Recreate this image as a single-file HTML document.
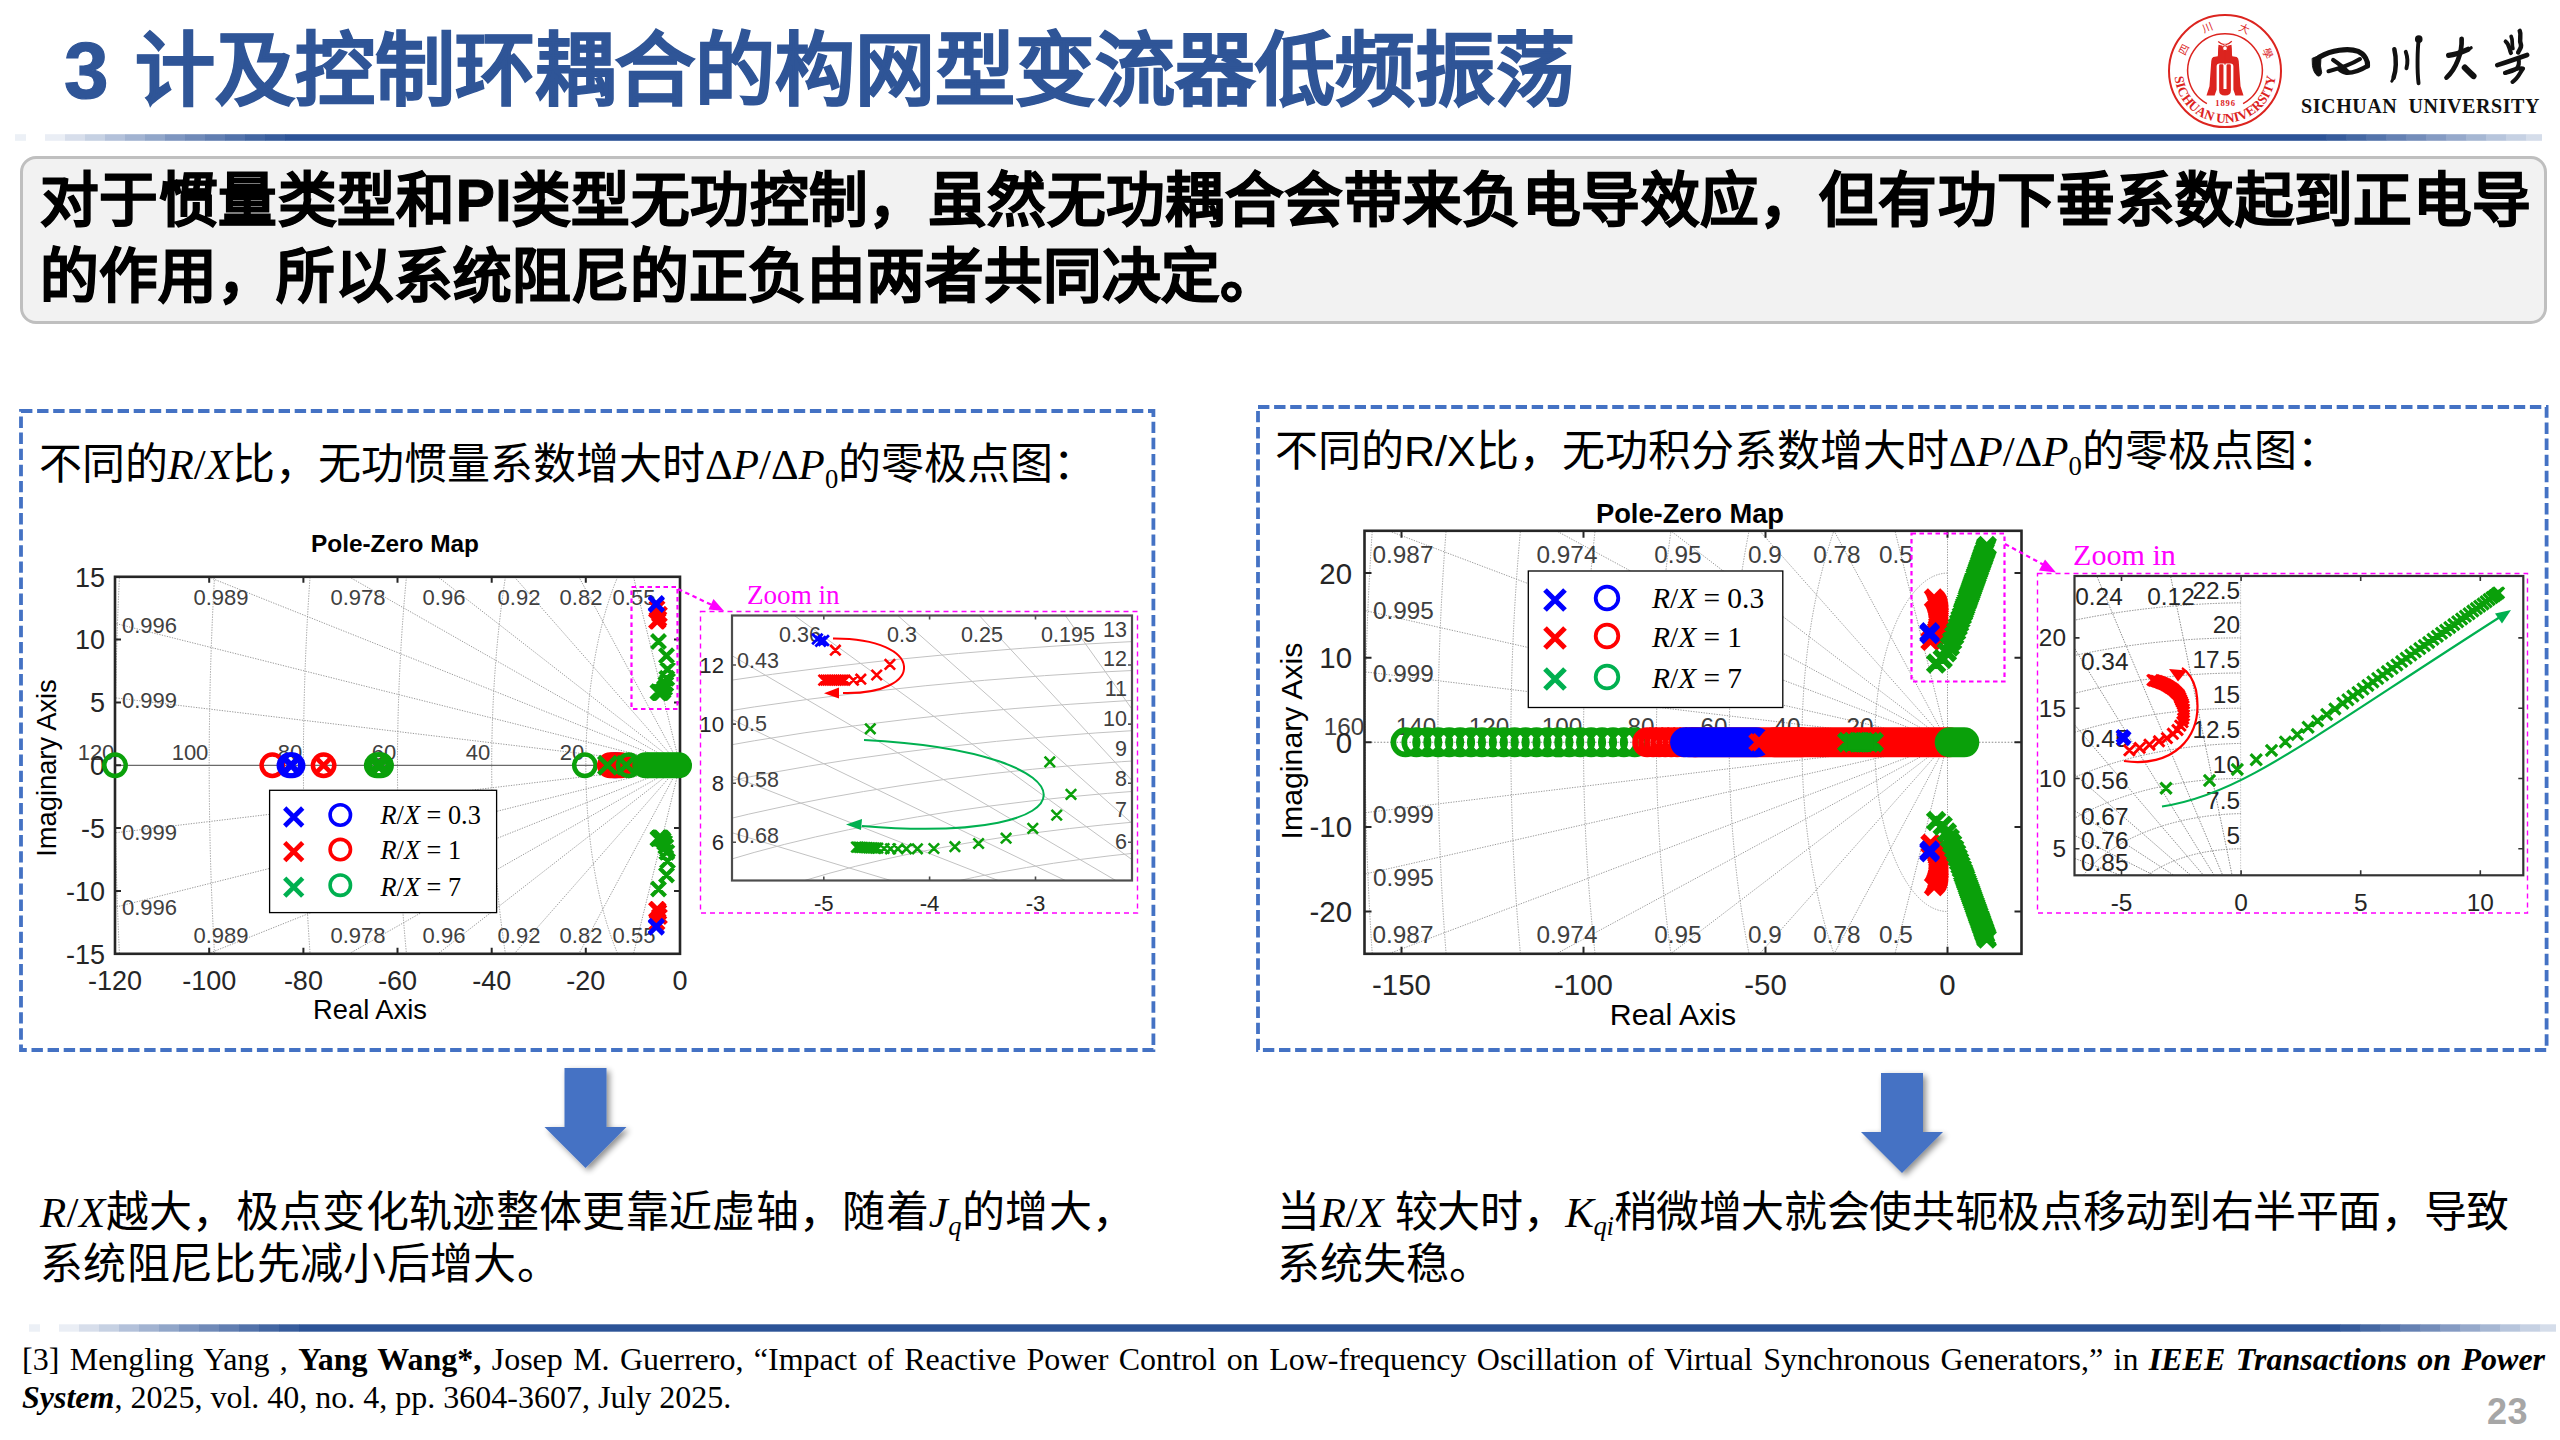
<!DOCTYPE html>
<html lang="zh-CN"><head><meta charset="utf-8"><title>slide 23</title>
<style>
*{margin:0;padding:0;box-sizing:border-box}
html,body{width:2560px;height:1440px;overflow:hidden;background:#fff}
body{position:relative;font-family:"Liberation Sans",sans-serif;color:#000}
.t{position:absolute;white-space:nowrap;line-height:1;text-align:justify;text-align-last:justify}
.ser{font-family:"Liberation Serif",serif}
i.m{font-family:"Liberation Serif",serif;font-style:italic}
span.m{font-family:"Liberation Serif",serif}
sub.m{font-family:"Liberation Serif",serif;font-size:62%;vertical-align:baseline;position:relative;top:.32em}
#title{width:1511px;left:64px;top:31px;word-spacing:4px;font-size:80px;font-weight:bold;color:#2f5597;-webkit-text-stroke:1.2px #2f5597}
.rule{position:absolute;height:7px;background:linear-gradient(90deg,rgba(47,85,151,0) 0,rgba(47,85,151,.12) 1.2%,rgba(47,85,151,.25) 4%,rgba(47,85,151,.6) 13%,#2f5597 21%,#2f5597 84%,rgba(47,85,151,.7) 88%,rgba(47,85,151,.35) 94%,rgba(47,85,151,.18) 99%,rgba(47,85,151,0) 100%)}
#gbox{position:absolute;left:20px;top:156px;width:2527px;height:168px;background:#f2f2f2;border:3px solid #bfbfbf;border-radius:16px}
.gl{font-size:58.67px;font-weight:bold;left:40px;-webkit-text-stroke:1px #000}
.panel{position:absolute;border:3px dashed #4472c4}
.pt{font-size:43px}
.cap{font-size:43px}
.ls1{letter-spacing:.33px}.ls2{letter-spacing:-.36px}
#ref{position:absolute;left:22px;top:1340px;width:2523px;font-family:"Liberation Serif",serif;font-size:32px;line-height:38px;text-align:justify}
#pn{text-align:right;text-align-last:right;right:32px;top:1394px;font-size:36px;font-weight:bold;color:#a6a6a6;letter-spacing:.5px}
svg{position:absolute;left:0;top:0}
</style></head>
<body>
<div class="t" id="title">3 计及控制环耦合的构网型变流器低频振荡</div>
<div id="gbox"></div>
<div class="t gl" style="top:172px;letter-spacing:.4px;width:2491.7px">对于惯量类型和PI类型无功控制，虽然无功耦合会带来负电导效应，但有功下垂系数起到正电导</div>
<div class="t gl" style="top:248px;width:1239px">的作用，所以系统阻尼的正负由两者共同决定。</div>
<div class="t pt" style="left:38.5px;top:443px;width:1057.7px">不同的<i class="m">R</i><span class="m">/</span><i class="m">X</i>比，无功惯量系数增大时<span class="m">Δ</span><i class="m">P</i><span class="m">/Δ</span><i class="m">P</i><sub class="m">0</sub>的零极点图：</div>
<div class="t pt" style="left:1275px;top:430px;width:1064.9px">不同的R/X比，无功积分系数增大时<span class="m">Δ</span><i class="m">P</i><span class="m">/Δ</span><i class="m">P</i><sub class="m">0</sub>的零极点图：</div>
<svg width="2560" height="1440" viewBox="0 0 2560 1440">
<rect x="15" y="134.2" width="11" height="6.6" fill="#ecf0f6"/><rect x="45" y="134.2" width="20.3" height="6.6" fill="#eaeef5"/><rect x="65" y="134.2" width="20.3" height="6.6" fill="#d7deeb"/><rect x="85" y="134.2" width="20.3" height="6.6" fill="#c6d1e3"/><rect x="105" y="134.2" width="20.3" height="6.6" fill="#b3c1da"/><rect x="125" y="134.2" width="20.3" height="6.6" fill="#a2b3d1"/><rect x="145" y="134.2" width="20.3" height="6.6" fill="#91a6c9"/><rect x="165" y="134.2" width="20.3" height="6.6" fill="#7e96c0"/><rect x="185" y="134.2" width="20.3" height="6.6" fill="#708ab8"/><rect x="205" y="134.2" width="20.3" height="6.6" fill="#617eb1"/><rect x="225" y="134.2" width="20.3" height="6.6" fill="#5272aa"/><rect x="245" y="134.2" width="20.3" height="6.6" fill="#4366a2"/><rect x="265" y="134.2" width="20.3" height="6.6" fill="#375c9c"/><rect x="285" y="134.2" width="2041.3" height="6.6" fill="#2c5397"/><rect x="2326" y="134.2" width="20.3" height="6.6" fill="#375c9c"/><rect x="2346" y="134.2" width="20.3" height="6.6" fill="#4568a3"/><rect x="2366" y="134.2" width="20.3" height="6.6" fill="#5474ab"/><rect x="2386" y="134.2" width="20.3" height="6.6" fill="#6581b3"/><rect x="2406" y="134.2" width="20.3" height="6.6" fill="#748dba"/><rect x="2426" y="134.2" width="20.3" height="6.6" fill="#859bc3"/><rect x="2446" y="134.2" width="20.3" height="6.6" fill="#96a9cb"/><rect x="2466" y="134.2" width="20.3" height="6.6" fill="#a6b7d3"/><rect x="2486" y="134.2" width="20.3" height="6.6" fill="#b7c5dc"/><rect x="2506" y="134.2" width="20.3" height="6.6" fill="#c6d1e3"/><rect x="2526" y="134.2" width="16" height="6.6" fill="#d5ddea"/>
<rect x="29" y="1324.3" width="11" height="7.4" fill="#ecf0f6"/><rect x="59" y="1324.3" width="20.3" height="7.4" fill="#eaeef5"/><rect x="79" y="1324.3" width="20.3" height="7.4" fill="#d7deeb"/><rect x="99" y="1324.3" width="20.3" height="7.4" fill="#c6d1e3"/><rect x="119" y="1324.3" width="20.3" height="7.4" fill="#b3c1da"/><rect x="139" y="1324.3" width="20.3" height="7.4" fill="#a2b3d1"/><rect x="159" y="1324.3" width="20.3" height="7.4" fill="#91a6c9"/><rect x="179" y="1324.3" width="20.3" height="7.4" fill="#7e96c0"/><rect x="199" y="1324.3" width="20.3" height="7.4" fill="#708ab8"/><rect x="219" y="1324.3" width="20.3" height="7.4" fill="#617eb1"/><rect x="239" y="1324.3" width="20.3" height="7.4" fill="#5272aa"/><rect x="259" y="1324.3" width="20.3" height="7.4" fill="#4366a2"/><rect x="279" y="1324.3" width="20.3" height="7.4" fill="#375c9c"/><rect x="299" y="1324.3" width="2041.3" height="7.4" fill="#2c5397"/><rect x="2340" y="1324.3" width="20.3" height="7.4" fill="#375c9c"/><rect x="2360" y="1324.3" width="20.3" height="7.4" fill="#4568a3"/><rect x="2380" y="1324.3" width="20.3" height="7.4" fill="#5474ab"/><rect x="2400" y="1324.3" width="20.3" height="7.4" fill="#6581b3"/><rect x="2420" y="1324.3" width="20.3" height="7.4" fill="#748dba"/><rect x="2440" y="1324.3" width="20.3" height="7.4" fill="#859bc3"/><rect x="2460" y="1324.3" width="20.3" height="7.4" fill="#96a9cb"/><rect x="2480" y="1324.3" width="20.3" height="7.4" fill="#a6b7d3"/><rect x="2500" y="1324.3" width="20.3" height="7.4" fill="#b7c5dc"/><rect x="2520" y="1324.3" width="20.3" height="7.4" fill="#c6d1e3"/><rect x="2540" y="1324.3" width="16" height="7.4" fill="#d5ddea"/>
<rect x="21" y="411" width="1132.4" height="639" fill="none" stroke="#4472c4" stroke-width="3.8" stroke-dasharray="11.4 4.7"/>
<rect x="1258" y="407" width="1288.6" height="643" fill="none" stroke="#4472c4" stroke-width="3.8" stroke-dasharray="11.4 4.7"/>
<g>
<circle cx="2225.0" cy="71.1" r="56" fill="none" stroke="#dc241f" stroke-width="2"/>
<path d="M2243.1 103.7A37.3 37.3 0 1 0 2206.9 103.7" fill="none" stroke="#dc241f" stroke-width="1.5"/>
<g transform="translate(2160 5) scale(0.09028)" fill="#dc241f">
<path d="M648 440C640 500 645 540 640 568L590 575Q570 585 568 620L548 900L515 1003L605 1003L627 940L627 680Q627 647 660 647L780 647Q813 647 813 680L813 940L835 1003L925 1003L892 900L872 620Q870 585 850 575L800 568C795 540 800 500 792 440L748 452L742 505L698 505L692 452Z"/>
<path d="M655 670Q655 657 668 657L690 657Q703 657 703 670L703 930L737 930L737 670Q737 657 750 657L772 657Q785 657 785 670L785 950Q785 1003 720 1003Q655 1003 655 950Z"/>
<rect x="713" y="500" width="14" height="160"/>
<circle cx="720" cy="478" r="27" fill="#fff" stroke="#dc241f" stroke-width="13"/>
<path d="M645 405Q690 445 716 432M795 402Q750 445 724 432" fill="none" stroke="#dc241f" stroke-width="14"/>
</g>
<text x="2225.6" y="106.4" font-family="Liberation Serif, serif" font-weight="bold" font-size="8.6" letter-spacing="0.9" text-anchor="middle" fill="#dc241f">1896</text>
<defs><path id="lgb" d="M2174.4 72.4A50.6 50.6 0 0 0 2275.6 72.0"/></defs>
<text font-family="Liberation Serif, serif" font-weight="bold" font-size="13.4" fill="#dc241f"><textPath href="#lgb" startOffset="50%" text-anchor="middle" textLength="150" lengthAdjust="spacing">SICHUAN UNIVERSITY</textPath></text>
<text transform="translate(2183.6 50.0) rotate(297.0)" font-size="10.5" text-anchor="middle" y="3.8" fill="#dc241f" font-family="Liberation Sans, sans-serif">四</text>
<text transform="translate(2207.6 28.0) rotate(338.0)" font-size="10.5" text-anchor="middle" y="3.8" fill="#dc241f" font-family="Liberation Sans, sans-serif">川</text>
<text transform="translate(2243.9 28.6) rotate(384.0)" font-size="10.5" text-anchor="middle" y="3.8" fill="#dc241f" font-family="Liberation Sans, sans-serif">大</text>
<text transform="translate(2267.6 52.6) rotate(426.5)" font-size="10.5" text-anchor="middle" y="3.8" fill="#dc241f" font-family="Liberation Sans, sans-serif">學</text>
<g transform="translate(2300 20) scale(0.09766)" fill="none" stroke="#111" stroke-linecap="round" stroke-linejoin="round">
<path d="M128 392L198 362Q222 372 214 402Q202 470 222 540Q212 580 184 574Q140 548 128 470Z" fill="#111" stroke-width="10"/><path d="M200 378C320 312 490 282 596 322C664 352 698 420 692 470" stroke-width="52"/><path d="M692 470C640 505 540 545 476 540C440 534 415 518 398 500" stroke-width="46"/><path d="M614 400C500 470 380 502 292 524" stroke-width="42"/><path d="M340 410C400 450 450 490 488 530" stroke-width="44"/><path d="M966 300C990 400 984 520 958 590" stroke-width="46"/><path d="M958 590C952 606 946 618 940 628" stroke-width="30"/><path d="M1083 326C1102 380 1102 450 1090 494" stroke-width="40"/><path d="M1216 200C1202 300 1198 520 1214 648" stroke-width="40"/><circle cx="1216" cy="196" r="30" fill="#111" stroke-width="18"/><path d="M1522 362C1600 352 1680 318 1720 300" stroke-width="54"/><path d="M1720 300C1735 294 1745 289 1752 285" stroke-width="34"/><path d="M1655 192C1662 330 1600 500 1500 590" stroke-width="48"/><path d="M1688 488C1722 522 1755 555 1776 574" stroke-width="64"/><path d="M2250 112C2272 160 2238 200 2262 250C2272 285 2242 310 2234 332" stroke-width="46"/><path d="M2162 168C2182 210 2166 250 2180 292" stroke-width="38"/><path d="M2106 220C2150 255 2140 300 2160 338" stroke-width="42"/><path d="M2020 462C2120 430 2250 385 2326 358" stroke-width="48"/><path d="M2236 396C2246 430 2242 470 2216 500C2180 526 2130 536 2100 542" stroke-width="42"/><path d="M2100 542C2170 510 2240 490 2284 496C2252 540 2232 600 2176 634" stroke-width="42"/></g>
<text x="2301" y="112.8" font-family="Liberation Serif, serif" font-weight="bold" font-size="20" fill="#111" textLength="238.5" lengthAdjust="spacing" style="white-space:pre">SICHUAN  UNIVERSITY</text>
</g>
<g font-family="Liberation Sans, sans-serif">
<defs><clipPath id="cL"><rect x="115" y="576.8" width="565" height="377"/></clipPath></defs>
<g clip-path="url(#cL)" stroke="#9a9a9a" stroke-width="1" stroke-dasharray="1.3 1.3" fill="none"><path d="M680 765.3L-355.8 -3433.9M680 765.3L-355.8 4964.5M680 765.3L-864.2 -2112.5M680 765.3L-864.2 3643.1M680 765.3L-1052.5 -1205.3M680 765.3L-1052.5 2735.9M680 765.3L-1127.9 -642.5M680 765.3L-1127.9 2173.1M680 765.3L-1161.8 -283.6M680 765.3L-1161.8 1814.2M680 765.3L-1182.5 21.6M680 765.3L-1182.5 1509M680 765.3L-1194.9 294.2M680 765.3L-1194.9 1236.4M680 765.3L-1201.3 540.5M680 765.3L-1201.3 990.1M680 513.9A94.2 251.4 0 0 0 680 1016.7M680 262.5A188.3 502.8 0 0 0 680 1268.1M680 11.1A282.5 754.2 0 0 0 680 1519.5M680 -240.3A376.6 1005.6 0 0 0 680 1770.9M680 -491.7A470.8 1257 0 0 0 680 2022.3M680 -743.1A565 1508.4 0 0 0 680 2273.7"/></g>
<path d="M115 765.3H680" stroke="#6a6a6a" stroke-width="1.3"/>
<text x="221" y="605" font-size="22" text-anchor="middle" fill="#404040" >0.989</text>
<text x="221" y="943" font-size="22" text-anchor="middle" fill="#404040" >0.989</text>
<text x="358" y="605" font-size="22" text-anchor="middle" fill="#404040" >0.978</text>
<text x="358" y="943" font-size="22" text-anchor="middle" fill="#404040" >0.978</text>
<text x="444" y="605" font-size="22" text-anchor="middle" fill="#404040" >0.96</text>
<text x="444" y="943" font-size="22" text-anchor="middle" fill="#404040" >0.96</text>
<text x="519" y="605" font-size="22" text-anchor="middle" fill="#404040" >0.92</text>
<text x="519" y="943" font-size="22" text-anchor="middle" fill="#404040" >0.92</text>
<text x="581" y="605" font-size="22" text-anchor="middle" fill="#404040" >0.82</text>
<text x="581" y="943" font-size="22" text-anchor="middle" fill="#404040" >0.82</text>
<text x="634" y="605" font-size="22" text-anchor="middle" fill="#404040" >0.55</text>
<text x="634" y="943" font-size="22" text-anchor="middle" fill="#404040" >0.55</text>
<text x="122" y="633" font-size="22" text-anchor="start" fill="#404040" >0.996</text>
<text x="122" y="708" font-size="22" text-anchor="start" fill="#404040" >0.999</text>
<text x="122" y="840" font-size="22" text-anchor="start" fill="#404040" >0.999</text>
<text x="122" y="915" font-size="22" text-anchor="start" fill="#404040" >0.996</text>
<text x="96" y="760" font-size="22" text-anchor="middle" fill="#404040" >120</text>
<text x="190" y="760" font-size="22" text-anchor="middle" fill="#404040" >100</text>
<text x="290" y="760" font-size="22" text-anchor="middle" fill="#404040" >80</text>
<text x="384" y="760" font-size="22" text-anchor="middle" fill="#404040" >60</text>
<text x="478" y="760" font-size="22" text-anchor="middle" fill="#404040" >40</text>
<text x="572" y="760" font-size="22" text-anchor="middle" fill="#404040" >20</text>
<rect x="115" y="576.8" width="565" height="377" fill="none" stroke="#262626" stroke-width="2.6"/>
<path d="M209.2 953.8v-6M209.2 576.8v6M303.4 953.8v-6M303.4 576.8v6M397.5 953.8v-6M397.5 576.8v6M491.7 953.8v-6M491.7 576.8v6M585.8 953.8v-6M585.8 576.8v6M115 639.6h6M680 639.6h-6M115 702.4h6M680 702.4h-6M115 765.3h6M680 765.3h-6M115 828.1h6M680 828.1h-6M115 891h6M680 891h-6" stroke="#262626" stroke-width="2" fill="none"/>
<text x="105" y="586.5" font-size="27" text-anchor="end" fill="#262626" >15</text>
<text x="105" y="649.3" font-size="27" text-anchor="end" fill="#262626" >10</text>
<text x="105" y="712.1" font-size="27" text-anchor="end" fill="#262626" >5</text>
<text x="105" y="775" font-size="27" text-anchor="end" fill="#262626" >0</text>
<text x="105" y="837.9" font-size="27" text-anchor="end" fill="#262626" >-5</text>
<text x="105" y="900.7" font-size="27" text-anchor="end" fill="#262626" >-10</text>
<text x="105" y="963.5" font-size="27" text-anchor="end" fill="#262626" >-15</text>
<text x="115" y="990" font-size="27" text-anchor="middle" fill="#262626" >-120</text>
<text x="209.2" y="990" font-size="27" text-anchor="middle" fill="#262626" >-100</text>
<text x="303.4" y="990" font-size="27" text-anchor="middle" fill="#262626" >-80</text>
<text x="397.5" y="990" font-size="27" text-anchor="middle" fill="#262626" >-60</text>
<text x="491.7" y="990" font-size="27" text-anchor="middle" fill="#262626" >-40</text>
<text x="585.8" y="990" font-size="27" text-anchor="middle" fill="#262626" >-20</text>
<text x="680" y="990" font-size="27" text-anchor="middle" fill="#262626" >0</text>
<text x="395" y="552" font-size="24.4" text-anchor="middle" fill="#000" font-weight="bold" fill="#000">Pole-Zero Map</text>
<text x="370" y="1018.5" font-size="27.3" text-anchor="middle" fill="#000" >Real Axis</text>
<text transform="translate(56 768) rotate(-90)" font-size="27.3" text-anchor="middle" fill="#000">Imaginary Axis</text>
<path d="M104.3 765.3a10.7 10.7 0 1 0 21.4 0a10.7 10.7 0 1 0 -21.4 0" stroke="#0aa00a" stroke-width="4.5" fill="none"/>
<path d="M261.6 765.3a10.7 10.7 0 1 0 21.4 0a10.7 10.7 0 1 0 -21.4 0" stroke="#ff0000" stroke-width="4.5" fill="none"/>
<path d="M278.8 765.3a10.7 10.7 0 1 0 21.4 0a10.7 10.7 0 1 0 -21.4 0M280.4 765.3a10.7 10.7 0 1 0 21.4 0a10.7 10.7 0 1 0 -21.4 0M281.8 765.3a10.7 10.7 0 1 0 21.4 0a10.7 10.7 0 1 0 -21.4 0" stroke="#0000ff" stroke-width="4.5" fill="none"/>
<path d="M282.8 757.9l14.8 14.8m-14.8 0l14.8 -14.8M284.7 757.9l14.8 14.8m-14.8 0l14.8 -14.8" stroke="#0000ff" stroke-width="4.6" fill="none"/>
<path d="M312.9 765.3a10.7 10.7 0 1 0 21.4 0a10.7 10.7 0 1 0 -21.4 0" stroke="#ff0000" stroke-width="4.5" fill="none"/>
<path d="M316.2 757.9l14.8 14.8m-14.8 0l14.8 -14.8" stroke="#ff0000" stroke-width="4.6" fill="none"/>
<path d="M366.1 765.3a10.7 10.7 0 1 0 21.4 0a10.7 10.7 0 1 0 -21.4 0M367.5 765.3a10.7 10.7 0 1 0 21.4 0a10.7 10.7 0 1 0 -21.4 0M368.9 765.3a10.7 10.7 0 1 0 21.4 0a10.7 10.7 0 1 0 -21.4 0M370.3 765.3a10.7 10.7 0 1 0 21.4 0a10.7 10.7 0 1 0 -21.4 0" stroke="#0aa00a" stroke-width="4.5" fill="none"/>
<path d="M369.4 757.9l14.8 14.8m-14.8 0l14.8 -14.8M370.8 757.9l14.8 14.8m-14.8 0l14.8 -14.8M372.2 757.9l14.8 14.8m-14.8 0l14.8 -14.8M373.6 757.9l14.8 14.8m-14.8 0l14.8 -14.8" stroke="#0aa00a" stroke-width="4.6" fill="none"/>
<path d="M574.2 765.3a10.7 10.7 0 1 0 21.4 0a10.7 10.7 0 1 0 -21.4 0" stroke="#0aa00a" stroke-width="4.5" fill="none"/>
<path d="M603.4 765.3a10.7 10.7 0 1 0 21.4 0a10.7 10.7 0 1 0 -21.4 0M605.3 765.3a10.7 10.7 0 1 0 21.4 0a10.7 10.7 0 1 0 -21.4 0" stroke="#0000ff" stroke-width="4.5" fill="none"/>
<path d="M606.7 757.9l14.8 14.8m-14.8 0l14.8 -14.8M608.6 757.9l14.8 14.8m-14.8 0l14.8 -14.8" stroke="#0000ff" stroke-width="4.6" fill="none"/>
<path d="M599.2 765.3a10.7 10.7 0 1 0 21.4 0a10.7 10.7 0 1 0 -21.4 0M601 765.3a10.7 10.7 0 1 0 21.4 0a10.7 10.7 0 1 0 -21.4 0M602.9 765.3a10.7 10.7 0 1 0 21.4 0a10.7 10.7 0 1 0 -21.4 0M604.8 765.3a10.7 10.7 0 1 0 21.4 0a10.7 10.7 0 1 0 -21.4 0M606.7 765.3a10.7 10.7 0 1 0 21.4 0a10.7 10.7 0 1 0 -21.4 0M608.6 765.3a10.7 10.7 0 1 0 21.4 0a10.7 10.7 0 1 0 -21.4 0M610.4 765.3a10.7 10.7 0 1 0 21.4 0a10.7 10.7 0 1 0 -21.4 0" stroke="#ff0000" stroke-width="4.5" fill="none"/>
<path d="M602.5 757.9l14.8 14.8m-14.8 0l14.8 -14.8M604.3 757.9l14.8 14.8m-14.8 0l14.8 -14.8M606.2 757.9l14.8 14.8m-14.8 0l14.8 -14.8M608.1 757.9l14.8 14.8m-14.8 0l14.8 -14.8M610 757.9l14.8 14.8m-14.8 0l14.8 -14.8M611.9 757.9l14.8 14.8m-14.8 0l14.8 -14.8M613.8 757.9l14.8 14.8m-14.8 0l14.8 -14.8" stroke="#ff0000" stroke-width="4.6" fill="none"/>
<path d="M598.6 756.4l17.8 17.8m-17.8 0l17.8 -17.8M617.4 756.4l17.8 17.8m-17.8 0l17.8 -17.8" stroke="#0aa00a" stroke-width="4.6" fill="none"/>
<path d="M618 765.3a10.7 10.7 0 1 0 21.4 0a10.7 10.7 0 1 0 -21.4 0" stroke="#0aa00a" stroke-width="4.5" fill="none"/>
<path d="M634.5 765.3a10.7 10.7 0 1 0 21.4 0a10.7 10.7 0 1 0 -21.4 0M636.6 765.3a10.7 10.7 0 1 0 21.4 0a10.7 10.7 0 1 0 -21.4 0M638.7 765.3a10.7 10.7 0 1 0 21.4 0a10.7 10.7 0 1 0 -21.4 0M640.8 765.3a10.7 10.7 0 1 0 21.4 0a10.7 10.7 0 1 0 -21.4 0M642.9 765.3a10.7 10.7 0 1 0 21.4 0a10.7 10.7 0 1 0 -21.4 0M645.1 765.3a10.7 10.7 0 1 0 21.4 0a10.7 10.7 0 1 0 -21.4 0M647.2 765.3a10.7 10.7 0 1 0 21.4 0a10.7 10.7 0 1 0 -21.4 0M649.3 765.3a10.7 10.7 0 1 0 21.4 0a10.7 10.7 0 1 0 -21.4 0M651.4 765.3a10.7 10.7 0 1 0 21.4 0a10.7 10.7 0 1 0 -21.4 0M653.5 765.3a10.7 10.7 0 1 0 21.4 0a10.7 10.7 0 1 0 -21.4 0M655.6 765.3a10.7 10.7 0 1 0 21.4 0a10.7 10.7 0 1 0 -21.4 0M657.8 765.3a10.7 10.7 0 1 0 21.4 0a10.7 10.7 0 1 0 -21.4 0M659.9 765.3a10.7 10.7 0 1 0 21.4 0a10.7 10.7 0 1 0 -21.4 0M662 765.3a10.7 10.7 0 1 0 21.4 0a10.7 10.7 0 1 0 -21.4 0M664.1 765.3a10.7 10.7 0 1 0 21.4 0a10.7 10.7 0 1 0 -21.4 0M666.2 765.3a10.7 10.7 0 1 0 21.4 0a10.7 10.7 0 1 0 -21.4 0M668.4 765.3a10.7 10.7 0 1 0 21.4 0a10.7 10.7 0 1 0 -21.4 0" stroke="#0aa00a" stroke-width="4.5" fill="none"/>
<path d="M637.8 757.9l14.8 14.8m-14.8 0l14.8 -14.8M639.9 757.9l14.8 14.8m-14.8 0l14.8 -14.8M642 757.9l14.8 14.8m-14.8 0l14.8 -14.8M644.1 757.9l14.8 14.8m-14.8 0l14.8 -14.8M646.2 757.9l14.8 14.8m-14.8 0l14.8 -14.8M648.4 757.9l14.8 14.8m-14.8 0l14.8 -14.8M650.5 757.9l14.8 14.8m-14.8 0l14.8 -14.8M652.6 757.9l14.8 14.8m-14.8 0l14.8 -14.8M654.7 757.9l14.8 14.8m-14.8 0l14.8 -14.8M656.8 757.9l14.8 14.8m-14.8 0l14.8 -14.8M658.9 757.9l14.8 14.8m-14.8 0l14.8 -14.8M661.1 757.9l14.8 14.8m-14.8 0l14.8 -14.8M663.2 757.9l14.8 14.8m-14.8 0l14.8 -14.8M665.3 757.9l14.8 14.8m-14.8 0l14.8 -14.8M667.4 757.9l14.8 14.8m-14.8 0l14.8 -14.8M669.5 757.9l14.8 14.8m-14.8 0l14.8 -14.8M671.7 757.9l14.8 14.8m-14.8 0l14.8 -14.8" stroke="#0aa00a" stroke-width="4.6" fill="none"/>
<rect x="637.2" y="753.3" width="52.3" height="24" rx="12" fill="#0aa00a"/>
<path d="M651.5 634.6l14 14m-14 0l14 -14M659.5 648.7l14 14m-14 0l14 -14M660.5 662.5l14 14m-14 0l14 -14M659.8 671.3l14 14m-14 0l14 -14M658.8 677l14 14m-14 0l14 -14M657.6 681.1l14 14m-14 0l14 -14M656.3 683.4l14 14m-14 0l14 -14M655.3 684.8l14 14m-14 0l14 -14M654.4 685.5l14 14m-14 0l14 -14M653.6 685.6l14 14m-14 0l14 -14M653.1 685.6l14 14m-14 0l14 -14M652.8 685.6l14 14m-14 0l14 -14M652.4 685.6l14 14m-14 0l14 -14M652.1 685.5l14 14m-14 0l14 -14M651.9 685.4l14 14m-14 0l14 -14M651.8 685.4l14 14m-14 0l14 -14M651.7 685.3l14 14m-14 0l14 -14M651.6 685.3l14 14m-14 0l14 -14M651.5 685.2l14 14m-14 0l14 -14M651.5 685.2l14 14m-14 0l14 -14M651.4 685.2l14 14m-14 0l14 -14M651.3 685.1l14 14m-14 0l14 -14M651.2 685.1l14 14m-14 0l14 -14M651.2 685.1l14 14m-14 0l14 -14M651.1 685l14 14m-14 0l14 -14M651 685l14 14m-14 0l14 -14M650.9 684.9l14 14m-14 0l14 -14M651.5 882l14 14m-14 0l14 -14M659.5 867.9l14 14m-14 0l14 -14M660.5 854.1l14 14m-14 0l14 -14M659.8 845.3l14 14m-14 0l14 -14M658.8 839.6l14 14m-14 0l14 -14M657.6 835.5l14 14m-14 0l14 -14M656.3 833.2l14 14m-14 0l14 -14M655.3 831.8l14 14m-14 0l14 -14M654.4 831.1l14 14m-14 0l14 -14M653.6 831l14 14m-14 0l14 -14M653.1 831l14 14m-14 0l14 -14M652.8 831l14 14m-14 0l14 -14M652.4 831l14 14m-14 0l14 -14M652.1 831.1l14 14m-14 0l14 -14M651.9 831.2l14 14m-14 0l14 -14M651.8 831.2l14 14m-14 0l14 -14M651.7 831.3l14 14m-14 0l14 -14M651.6 831.3l14 14m-14 0l14 -14M651.5 831.4l14 14m-14 0l14 -14M651.5 831.4l14 14m-14 0l14 -14M651.4 831.4l14 14m-14 0l14 -14M651.3 831.5l14 14m-14 0l14 -14M651.2 831.5l14 14m-14 0l14 -14M651.2 831.5l14 14m-14 0l14 -14M651.1 831.6l14 14m-14 0l14 -14M651 831.6l14 14m-14 0l14 -14M650.9 831.7l14 14m-14 0l14 -14" stroke="#0aa00a" stroke-width="4.2" fill="none"/>
<path d="M650 601.2l14 14m-14 0l14 -14M652.4 607.2l14 14m-14 0l14 -14M651.8 611.7l14 14m-14 0l14 -14M651.1 613.5l14 14m-14 0l14 -14M650.8 613.9l14 14m-14 0l14 -14M649.5 613.9l14 14m-14 0l14 -14M649.6 613.9l14 14m-14 0l14 -14M649.6 613.9l14 14m-14 0l14 -14M649.7 613.9l14 14m-14 0l14 -14M649.8 613.9l14 14m-14 0l14 -14M649.9 613.9l14 14m-14 0l14 -14M650 613.9l14 14m-14 0l14 -14M650.1 613.9l14 14m-14 0l14 -14M650.2 613.9l14 14m-14 0l14 -14M650.3 613.9l14 14m-14 0l14 -14M650.4 613.9l14 14m-14 0l14 -14M650 915.4l14 14m-14 0l14 -14M652.4 909.4l14 14m-14 0l14 -14M651.8 904.9l14 14m-14 0l14 -14M651.1 903.1l14 14m-14 0l14 -14M650.8 902.7l14 14m-14 0l14 -14M649.5 902.7l14 14m-14 0l14 -14M649.6 902.7l14 14m-14 0l14 -14M649.6 902.7l14 14m-14 0l14 -14M649.7 902.7l14 14m-14 0l14 -14M649.8 902.7l14 14m-14 0l14 -14M649.9 902.7l14 14m-14 0l14 -14M650 902.7l14 14m-14 0l14 -14M650.1 902.7l14 14m-14 0l14 -14M650.2 902.7l14 14m-14 0l14 -14M650.3 902.7l14 14m-14 0l14 -14M650.4 902.7l14 14m-14 0l14 -14" stroke="#ff0000" stroke-width="4.2" fill="none"/>
<path d="M649.2 596.4l14 14m-14 0l14 -14M649.5 597l14 14m-14 0l14 -14M649.3 597.4l14 14m-14 0l14 -14M649.2 920.2l14 14m-14 0l14 -14M649.5 919.6l14 14m-14 0l14 -14M649.3 919.2l14 14m-14 0l14 -14" stroke="#0000ff" stroke-width="4.2" fill="none"/>
<rect x="269.6" y="790.3" width="227" height="122.3" fill="#fff" stroke="#000" stroke-width="1.3"/>
<path d="M284.7 808l18 18m-18 0l18 -18" stroke="#0000ff" stroke-width="4.7" fill="none"/>
<path d="M330.1 815a10.2 10.2 0 1 0 20.4 0a10.2 10.2 0 1 0 -20.4 0" stroke="#0000ff" stroke-width="3.6" fill="none"/>
<text x="380.5" y="824.4" font-family="Liberation Serif, serif" font-size="26.3" fill="#000"><tspan font-style="italic">R</tspan>/<tspan font-style="italic">X</tspan> = 0.3</text>
<path d="M284.7 842.6l18 18m-18 0l18 -18" stroke="#ff0000" stroke-width="4.7" fill="none"/>
<path d="M330.1 849.6a10.2 10.2 0 1 0 20.4 0a10.2 10.2 0 1 0 -20.4 0" stroke="#ff0000" stroke-width="3.6" fill="none"/>
<text x="380.5" y="858.9" font-family="Liberation Serif, serif" font-size="26.3" fill="#000"><tspan font-style="italic">R</tspan>/<tspan font-style="italic">X</tspan> = 1</text>
<path d="M284.7 878.2l18 18m-18 0l18 -18" stroke="#00b050" stroke-width="4.7" fill="none"/>
<path d="M330.1 885.2a10.2 10.2 0 1 0 20.4 0a10.2 10.2 0 1 0 -20.4 0" stroke="#00b050" stroke-width="3.6" fill="none"/>
<text x="380.5" y="896.2" font-family="Liberation Serif, serif" font-size="26.3" fill="#000"><tspan font-style="italic">R</tspan>/<tspan font-style="italic">X</tspan> = 7</text>
<rect x="631.5" y="587" width="46" height="122" fill="none" stroke="#ff00ff" stroke-width="2.2" stroke-dasharray="4.5 3.5"/>
<path d="M678 589L714 606" stroke="#ff00ff" stroke-width="2.2" stroke-dasharray="4.5 3.5" fill="none"/><path d="M724 611l-15.5-1.5l5-10.5z" fill="#ff00ff"/>
</g>
<g font-family="Liberation Sans, sans-serif">
<defs><clipPath id="cLi"><rect x="732" y="615.5" width="400" height="265"/></clipPath></defs>
<rect x="700.5" y="611.5" width="437" height="301.5" fill="none" stroke="#ff00ff" stroke-width="1.4" stroke-dasharray="5 4"/>
<g clip-path="url(#cLi)" stroke="#c2c2c2" stroke-width="1" fill="none"><path d="M1353.2 1019.6L-6907 -10573.5M1353.2 1019.6L-6907 12612.7M1353.2 1019.6L-9236.8 -10425.1M1353.2 1019.6L-9236.8 12464.3M1353.2 1019.6L-11354.8 -10256M1353.2 1019.6L-11354.8 12295.2M1353.2 1019.6L-13896.4 -10007.9M1353.2 1019.6L-13896.4 12047.1M1353.2 1019.6L-16861.5 -9651.8M1353.2 1019.6L-16861.5 11691M1353.2 1019.6L-19826.8 -9216.8M1353.2 1019.6L-19826.8 11256M1353.2 1019.6L-23215.5 -8609.2M1353.2 1019.6L-23215.5 10648.4M1353.2 1019.6L-27451.6 -7647M1353.2 1019.6L-27451.6 9686.2M1353.2 842.3A635.4 177.3 0 0 0 1353.2 1196.9M1353.2 812.8A741.3 206.8 0 0 0 1353.2 1226.5M1353.2 783.2A847.2 236.4 0 0 0 1353.2 1256M1353.2 753.7A953.1 265.9 0 0 0 1353.2 1285.5M1353.2 724.1A1059 295.5 0 0 0 1353.2 1315.1M1353.2 694.5A1164.9 325.1 0 0 0 1353.2 1344.7M1353.2 665A1270.8 354.6 0 0 0 1353.2 1374.2M1353.2 635.5A1376.7 384.2 0 0 0 1353.2 1403.8"/></g>
<text x="800" y="642" font-size="21.5" text-anchor="middle" fill="#404040" >0.36</text>
<text x="902" y="642" font-size="21.5" text-anchor="middle" fill="#404040" >0.3</text>
<text x="982" y="642" font-size="21.5" text-anchor="middle" fill="#404040" >0.25</text>
<text x="1068" y="642" font-size="21.5" text-anchor="middle" fill="#404040" >0.195</text>
<text x="737" y="668" font-size="21.5" text-anchor="start" fill="#404040" >0.43</text>
<text x="737" y="731" font-size="21.5" text-anchor="start" fill="#404040" >0.5</text>
<text x="737" y="787" font-size="21.5" text-anchor="start" fill="#404040" >0.58</text>
<text x="737" y="843" font-size="21.5" text-anchor="start" fill="#404040" >0.68</text>
<text x="1127" y="637" font-size="21.5" text-anchor="end" fill="#404040" >13</text>
<text x="1127" y="666" font-size="21.5" text-anchor="end" fill="#404040" >12</text>
<text x="1127" y="696" font-size="21.5" text-anchor="end" fill="#404040" >11</text>
<text x="1127" y="726" font-size="21.5" text-anchor="end" fill="#404040" >10</text>
<text x="1127" y="756" font-size="21.5" text-anchor="end" fill="#404040" >9</text>
<text x="1127" y="786" font-size="21.5" text-anchor="end" fill="#404040" >8</text>
<text x="1127" y="817" font-size="21.5" text-anchor="end" fill="#404040" >7</text>
<text x="1127" y="849" font-size="21.5" text-anchor="end" fill="#404040" >6</text>
<rect x="732" y="615.5" width="400" height="265" fill="none" stroke="#4d4d4d" stroke-width="2.2"/>
<path d="M823.8 880.5v-4M823.8 615.5v4M929.6 880.5v-4M929.6 615.5v4M1035.5 880.5v-4M1035.5 615.5v4M732 665h4M1132 665h-4M732 724.1h4M1132 724.1h-4M732 783.2h4M1132 783.2h-4M732 842.3h4M1132 842.3h-4" stroke="#4d4d4d" stroke-width="1.6" fill="none"/>
<text x="724" y="673" font-size="22.2" text-anchor="end" fill="#262626" >12</text>
<text x="724" y="732.1" font-size="22.2" text-anchor="end" fill="#262626" >10</text>
<text x="724" y="791.2" font-size="22.2" text-anchor="end" fill="#262626" >8</text>
<text x="724" y="850.3" font-size="22.2" text-anchor="end" fill="#262626" >6</text>
<text x="823.8" y="910.5" font-size="22.2" text-anchor="middle" fill="#262626" >-5</text>
<text x="929.6" y="910.5" font-size="22.2" text-anchor="middle" fill="#262626" >-4</text>
<text x="1035.5" y="910.5" font-size="22.2" text-anchor="middle" fill="#262626" >-3</text>
<path d="M865.1 723.6l10.4 10.4m-10.4 0l10.4 -10.4M1044.6 756.7l10.4 10.4m-10.4 0l10.4 -10.4M1065.8 789.2l10.4 10.4m-10.4 0l10.4 -10.4M1051.5 809.9l10.4 10.4m-10.4 0l10.4 -10.4M1027.6 823.2l10.4 10.4m-10.4 0l10.4 -10.4M1000.9 833l10.4 10.4m-10.4 0l10.4 -10.4M973.4 838.3l10.4 10.4m-10.4 0l10.4 -10.4M949.7 841.5l10.4 10.4m-10.4 0l10.4 -10.4M928.7 843.3l10.4 10.4m-10.4 0l10.4 -10.4M912.2 843.6l10.4 10.4m-10.4 0l10.4 -10.4M901.2 843.6l10.4 10.4m-10.4 0l10.4 -10.4M892.7 843.6l10.4 10.4m-10.4 0l10.4 -10.4M885.3 843.6l10.4 10.4m-10.4 0l10.4 -10.4M878.9 843.3l10.4 10.4m-10.4 0l10.4 -10.4M872.6 843l10.4 10.4m-10.4 0l10.4 -10.4M870.8 842.9l10.4 10.4m-10.4 0l10.4 -10.4M869 842.8l10.4 10.4m-10.4 0l10.4 -10.4M867.3 842.7l10.4 10.4m-10.4 0l10.4 -10.4M865.5 842.7l10.4 10.4m-10.4 0l10.4 -10.4M863.7 842.6l10.4 10.4m-10.4 0l10.4 -10.4M861.9 842.5l10.4 10.4m-10.4 0l10.4 -10.4M860.2 842.4l10.4 10.4m-10.4 0l10.4 -10.4M858.4 842.3l10.4 10.4m-10.4 0l10.4 -10.4M856.6 842.2l10.4 10.4m-10.4 0l10.4 -10.4M854.9 842.1l10.4 10.4m-10.4 0l10.4 -10.4M853.1 842l10.4 10.4m-10.4 0l10.4 -10.4M851.3 841.9l10.4 10.4m-10.4 0l10.4 -10.4" stroke="#0aa00a" stroke-width="2.6" fill="none"/>
<path d="M830.2 645l10.4 10.4m-10.4 0l10.4 -10.4M884.7 659.2l10.4 10.4m-10.4 0l10.4 -10.4M871.5 669.8l10.4 10.4m-10.4 0l10.4 -10.4M855.6 674l10.4 10.4m-10.4 0l10.4 -10.4M848.2 674.9l10.4 10.4m-10.4 0l10.4 -10.4M818.5 674.9l10.4 10.4m-10.4 0l10.4 -10.4M820.7 674.9l10.4 10.4m-10.4 0l10.4 -10.4M822.8 674.9l10.4 10.4m-10.4 0l10.4 -10.4M824.9 674.9l10.4 10.4m-10.4 0l10.4 -10.4M827 674.9l10.4 10.4m-10.4 0l10.4 -10.4M829.1 674.9l10.4 10.4m-10.4 0l10.4 -10.4M831.3 674.9l10.4 10.4m-10.4 0l10.4 -10.4M833.4 674.9l10.4 10.4m-10.4 0l10.4 -10.4M835.5 674.9l10.4 10.4m-10.4 0l10.4 -10.4M837.6 674.9l10.4 10.4m-10.4 0l10.4 -10.4M839.7 674.9l10.4 10.4m-10.4 0l10.4 -10.4" stroke="#ff0000" stroke-width="2.6" fill="none"/>
<path d="M812.2 633.8l10.4 10.4m-10.4 0l10.4 -10.4M818.5 635.3l10.4 10.4m-10.4 0l10.4 -10.4M815.4 636.2l10.4 10.4m-10.4 0l10.4 -10.4" stroke="#0000ff" stroke-width="2.8" fill="none"/>
<path d="M833 638.5C926 638 926 695 843 693" stroke="#ff0000" stroke-width="2" fill="none"/><path d="M824 693.3l15-5.8v11z" fill="#ff0000"/>
<path d="M864 740C1104 752 1104 846 862 826" stroke="#00b050" stroke-width="2" fill="none"/><path d="M846 824.5l16-5.5l-1 11z" fill="#00b050"/>
<text x="747" y="604" font-family="Liberation Serif, serif" font-size="27.1" fill="#ff00ff">Zoom in</text>
</g>
<g font-family="Liberation Sans, sans-serif">
<defs><clipPath id="cR"><rect x="1364.5" y="530.8" width="657" height="423"/></clipPath></defs>
<g clip-path="url(#cR)" stroke="#9a9a9a" stroke-width="1" stroke-dasharray="1.3 1.3" fill="none"><path d="M1947.5 742.3L1219.5 -2188.3M1947.5 742.3L1219.5 3672.9M1947.5 742.3L811.8 -1375.3M1947.5 742.3L811.8 2859.9M1947.5 742.3L637.1 -732.8M1947.5 742.3L637.1 2217.4M1947.5 742.3L564.3 -314.4M1947.5 742.3L564.3 1799M1947.5 742.3L529.4 -24.3M1947.5 742.3L529.4 1508.9M1947.5 742.3L510.4 198.4M1947.5 742.3L510.4 1286.2M1947.5 742.3L498.3 414.6M1947.5 742.3L498.3 1070M1947.5 742.3L493.5 566.5M1947.5 742.3L493.5 918.1M1947.5 573.1A72.8 169.2 0 0 0 1947.5 911.5M1947.5 403.9A145.6 338.4 0 0 0 1947.5 1080.7M1947.5 234.7A218.4 507.6 0 0 0 1947.5 1249.9M1947.5 65.5A291.2 676.8 0 0 0 1947.5 1419.1M1947.5 -103.7A364 846 0 0 0 1947.5 1588.3M1947.5 -272.9A436.8 1015.2 0 0 0 1947.5 1757.5M1947.5 -442.1A509.6 1184.4 0 0 0 1947.5 1926.7M1947.5 -611.3A582.4 1353.6 0 0 0 1947.5 2095.9M1947.5 530.8V953.8"/></g>
<path d="M1364.5 742.3H2021.5" stroke="#8c8c8c" stroke-width="1.1" stroke-dasharray="1.6 1.6"/>
<text x="1403" y="563" font-size="24.3" text-anchor="middle" fill="#404040" >0.987</text>
<text x="1403" y="943" font-size="24.3" text-anchor="middle" fill="#404040" >0.987</text>
<text x="1567" y="563" font-size="24.3" text-anchor="middle" fill="#404040" >0.974</text>
<text x="1567" y="943" font-size="24.3" text-anchor="middle" fill="#404040" >0.974</text>
<text x="1678" y="563" font-size="24.3" text-anchor="middle" fill="#404040" >0.95</text>
<text x="1678" y="943" font-size="24.3" text-anchor="middle" fill="#404040" >0.95</text>
<text x="1765" y="563" font-size="24.3" text-anchor="middle" fill="#404040" >0.9</text>
<text x="1765" y="943" font-size="24.3" text-anchor="middle" fill="#404040" >0.9</text>
<text x="1837" y="563" font-size="24.3" text-anchor="middle" fill="#404040" >0.78</text>
<text x="1837" y="943" font-size="24.3" text-anchor="middle" fill="#404040" >0.78</text>
<text x="1896" y="563" font-size="24.3" text-anchor="middle" fill="#404040" >0.5</text>
<text x="1896" y="943" font-size="24.3" text-anchor="middle" fill="#404040" >0.5</text>
<text x="1373" y="619" font-size="24.3" text-anchor="start" fill="#404040" >0.995</text>
<text x="1373" y="682" font-size="24.3" text-anchor="start" fill="#404040" >0.999</text>
<text x="1373" y="823" font-size="24.3" text-anchor="start" fill="#404040" >0.999</text>
<text x="1373" y="886" font-size="24.3" text-anchor="start" fill="#404040" >0.995</text>
<text x="1344" y="735" font-size="24.3" text-anchor="middle" fill="#404040" >160</text>
<text x="1416" y="735" font-size="24.3" text-anchor="middle" fill="#404040" >140</text>
<text x="1489" y="735" font-size="24.3" text-anchor="middle" fill="#404040" >120</text>
<text x="1562" y="735" font-size="24.3" text-anchor="middle" fill="#404040" >100</text>
<text x="1641" y="735" font-size="24.3" text-anchor="middle" fill="#404040" >80</text>
<text x="1714" y="735" font-size="24.3" text-anchor="middle" fill="#404040" >60</text>
<text x="1787" y="735" font-size="24.3" text-anchor="middle" fill="#404040" >40</text>
<text x="1860" y="735" font-size="24.3" text-anchor="middle" fill="#404040" >20</text>
<rect x="1364.5" y="530.8" width="657" height="423" fill="none" stroke="#262626" stroke-width="2.6"/>
<path d="M1401.5 953.8v-7M1401.5 530.8v7M1583.5 953.8v-7M1583.5 530.8v7M1765.5 953.8v-7M1765.5 530.8v7M1947.5 953.8v-7M1947.5 530.8v7M1364.5 573.1h7M2021.5 573.1h-7M1364.5 657.7h7M2021.5 657.7h-7M1364.5 742.3h7M2021.5 742.3h-7M1364.5 826.9h7M2021.5 826.9h-7M1364.5 911.5h7M2021.5 911.5h-7" stroke="#262626" stroke-width="2" fill="none"/>
<text x="1352" y="583.6" font-size="29.4" text-anchor="end" fill="#262626" >20</text>
<text x="1352" y="668.2" font-size="29.4" text-anchor="end" fill="#262626" >10</text>
<text x="1352" y="752.8" font-size="29.4" text-anchor="end" fill="#262626" >0</text>
<text x="1352" y="837.4" font-size="29.4" text-anchor="end" fill="#262626" >-10</text>
<text x="1352" y="922" font-size="29.4" text-anchor="end" fill="#262626" >-20</text>
<text x="1401.5" y="995" font-size="29.4" text-anchor="middle" fill="#262626" >-150</text>
<text x="1583.5" y="995" font-size="29.4" text-anchor="middle" fill="#262626" >-100</text>
<text x="1765.5" y="995" font-size="29.4" text-anchor="middle" fill="#262626" >-50</text>
<text x="1947.5" y="995" font-size="29.4" text-anchor="middle" fill="#262626" >0</text>
<text x="1690" y="522.5" font-size="27.3" text-anchor="middle" fill="#000" font-weight="bold">Pole-Zero Map</text>
<text x="1673" y="1024.5" font-size="30.3" text-anchor="middle" fill="#000" >Real Axis</text>
<text transform="translate(1302 741) rotate(-90)" font-size="30.3" text-anchor="middle" fill="#000">Imaginary Axis</text>
<path d="M1393.3 742.3a12.2 12.2 0 1 0 24.4 0a12.2 12.2 0 1 0 -24.4 0M1404.2 742.3a12.2 12.2 0 1 0 24.4 0a12.2 12.2 0 1 0 -24.4 0M1415.1 742.3a12.2 12.2 0 1 0 24.4 0a12.2 12.2 0 1 0 -24.4 0M1426.1 742.3a12.2 12.2 0 1 0 24.4 0a12.2 12.2 0 1 0 -24.4 0M1437 742.3a12.2 12.2 0 1 0 24.4 0a12.2 12.2 0 1 0 -24.4 0M1447.9 742.3a12.2 12.2 0 1 0 24.4 0a12.2 12.2 0 1 0 -24.4 0M1458.8 742.3a12.2 12.2 0 1 0 24.4 0a12.2 12.2 0 1 0 -24.4 0M1469.7 742.3a12.2 12.2 0 1 0 24.4 0a12.2 12.2 0 1 0 -24.4 0M1480.7 742.3a12.2 12.2 0 1 0 24.4 0a12.2 12.2 0 1 0 -24.4 0M1491.6 742.3a12.2 12.2 0 1 0 24.4 0a12.2 12.2 0 1 0 -24.4 0M1502.5 742.3a12.2 12.2 0 1 0 24.4 0a12.2 12.2 0 1 0 -24.4 0M1513.4 742.3a12.2 12.2 0 1 0 24.4 0a12.2 12.2 0 1 0 -24.4 0M1524.3 742.3a12.2 12.2 0 1 0 24.4 0a12.2 12.2 0 1 0 -24.4 0M1535.3 742.3a12.2 12.2 0 1 0 24.4 0a12.2 12.2 0 1 0 -24.4 0M1546.2 742.3a12.2 12.2 0 1 0 24.4 0a12.2 12.2 0 1 0 -24.4 0M1557.1 742.3a12.2 12.2 0 1 0 24.4 0a12.2 12.2 0 1 0 -24.4 0M1568 742.3a12.2 12.2 0 1 0 24.4 0a12.2 12.2 0 1 0 -24.4 0M1578.9 742.3a12.2 12.2 0 1 0 24.4 0a12.2 12.2 0 1 0 -24.4 0M1589.9 742.3a12.2 12.2 0 1 0 24.4 0a12.2 12.2 0 1 0 -24.4 0M1600.8 742.3a12.2 12.2 0 1 0 24.4 0a12.2 12.2 0 1 0 -24.4 0M1611.7 742.3a12.2 12.2 0 1 0 24.4 0a12.2 12.2 0 1 0 -24.4 0M1622.6 742.3a12.2 12.2 0 1 0 24.4 0a12.2 12.2 0 1 0 -24.4 0" stroke="#0aa00a" stroke-width="5.6" fill="none"/>
<path d="M1635 742.3a12.2 12.2 0 1 0 24.4 0a12.2 12.2 0 1 0 -24.4 0M1641 742.3a12.2 12.2 0 1 0 24.4 0a12.2 12.2 0 1 0 -24.4 0M1647 742.3a12.2 12.2 0 1 0 24.4 0a12.2 12.2 0 1 0 -24.4 0M1653 742.3a12.2 12.2 0 1 0 24.4 0a12.2 12.2 0 1 0 -24.4 0M1659 742.3a12.2 12.2 0 1 0 24.4 0a12.2 12.2 0 1 0 -24.4 0M1665 742.3a12.2 12.2 0 1 0 24.4 0a12.2 12.2 0 1 0 -24.4 0M1671 742.3a12.2 12.2 0 1 0 24.4 0a12.2 12.2 0 1 0 -24.4 0M1677 742.3a12.2 12.2 0 1 0 24.4 0a12.2 12.2 0 1 0 -24.4 0M1683 742.3a12.2 12.2 0 1 0 24.4 0a12.2 12.2 0 1 0 -24.4 0" stroke="#ff0000" stroke-width="5.6" fill="none"/>
<rect x="1677.7" y="727.3" width="139.2" height="30" rx="15" fill="#ff0000"/>
<rect x="1670.1" y="727.3" width="101.3" height="30" rx="15" fill="#0000ff"/>
<path d="M1750 734.8l15 15m-15 0l15 -15M1752.9 734.8l15 15m-15 0l15 -15" stroke="#ff0000" stroke-width="5" fill="none"/>
<rect x="1759.6" y="727.3" width="204.7" height="30" rx="15" fill="#ff0000"/>
<path d="M1838.9 733.8l17 17m-17 0l17 -17M1844.4 733.8l17 17m-17 0l17 -17M1849.8 733.8l17 17m-17 0l17 -17M1855.3 733.8l17 17m-17 0l17 -17M1860.7 733.8l17 17m-17 0l17 -17M1865.1 733.8l17 17m-17 0l17 -17" stroke="#0aa00a" stroke-width="5.5" fill="none"/>
<rect x="1847.4" y="734.8" width="26.2" height="15" fill="#0aa00a"/>
<rect x="1934.7" y="727.3" width="44.6" height="30" rx="15" fill="#0aa00a"/>
<path d="M1922.3 632.6l16.4 16.4m-16.4 0l16.4 -16.4M1923.9 631.1l16.4 16.4m-16.4 0l16.4 -16.4M1925.4 629.2l16.4 16.4m-16.4 0l16.4 -16.4M1926.8 627.1l16.4 16.4m-16.4 0l16.4 -16.4M1928 625.2l16.4 16.4m-16.4 0l16.4 -16.4M1928.9 622.6l16.4 16.4m-16.4 0l16.4 -16.4M1929.6 620.3l16.4 16.4m-16.4 0l16.4 -16.4M1930.1 617.7l16.4 16.4m-16.4 0l16.4 -16.4M1930.4 615.6l16.4 16.4m-16.4 0l16.4 -16.4M1930.5 613.5l16.4 16.4m-16.4 0l16.4 -16.4M1930.6 611.5l16.4 16.4m-16.4 0l16.4 -16.4M1930.6 609.5l16.4 16.4m-16.4 0l16.4 -16.4M1930.6 607.8l16.4 16.4m-16.4 0l16.4 -16.4M1930.5 606.1l16.4 16.4m-16.4 0l16.4 -16.4M1930.4 604.8l16.4 16.4m-16.4 0l16.4 -16.4M1930.3 603.4l16.4 16.4m-16.4 0l16.4 -16.4M1930.2 602.3l16.4 16.4m-16.4 0l16.4 -16.4M1930.1 601.2l16.4 16.4m-16.4 0l16.4 -16.4M1929.9 600.1l16.4 16.4m-16.4 0l16.4 -16.4M1929.8 599l16.4 16.4m-16.4 0l16.4 -16.4M1929.6 598.3l16.4 16.4m-16.4 0l16.4 -16.4M1929.4 597.6l16.4 16.4m-16.4 0l16.4 -16.4M1929.2 596.9l16.4 16.4m-16.4 0l16.4 -16.4M1929 596.2l16.4 16.4m-16.4 0l16.4 -16.4M1928.8 595.5l16.4 16.4m-16.4 0l16.4 -16.4M1928.6 594.9l16.4 16.4m-16.4 0l16.4 -16.4M1928.4 594.5l16.4 16.4m-16.4 0l16.4 -16.4M1928.2 594l16.4 16.4m-16.4 0l16.4 -16.4M1928.1 593.6l16.4 16.4m-16.4 0l16.4 -16.4M1927.9 593.2l16.4 16.4m-16.4 0l16.4 -16.4M1927.7 592.9l16.4 16.4m-16.4 0l16.4 -16.4M1927.5 592.5l16.4 16.4m-16.4 0l16.4 -16.4M1927.3 592.2l16.4 16.4m-16.4 0l16.4 -16.4M1927.1 591.9l16.4 16.4m-16.4 0l16.4 -16.4M1926.9 591.6l16.4 16.4m-16.4 0l16.4 -16.4M1926.7 591.3l16.4 16.4m-16.4 0l16.4 -16.4M1926.5 591l16.4 16.4m-16.4 0l16.4 -16.4M1926.3 590.8l16.4 16.4m-16.4 0l16.4 -16.4M1926.1 590.5l16.4 16.4m-16.4 0l16.4 -16.4M1925.8 590.3l16.4 16.4m-16.4 0l16.4 -16.4M1922.3 835.6l16.4 16.4m-16.4 0l16.4 -16.4M1923.9 837.1l16.4 16.4m-16.4 0l16.4 -16.4M1925.4 839l16.4 16.4m-16.4 0l16.4 -16.4M1926.8 841.1l16.4 16.4m-16.4 0l16.4 -16.4M1928 843l16.4 16.4m-16.4 0l16.4 -16.4M1928.9 845.6l16.4 16.4m-16.4 0l16.4 -16.4M1929.6 847.9l16.4 16.4m-16.4 0l16.4 -16.4M1930.1 850.5l16.4 16.4m-16.4 0l16.4 -16.4M1930.4 852.6l16.4 16.4m-16.4 0l16.4 -16.4M1930.5 854.7l16.4 16.4m-16.4 0l16.4 -16.4M1930.6 856.7l16.4 16.4m-16.4 0l16.4 -16.4M1930.6 858.7l16.4 16.4m-16.4 0l16.4 -16.4M1930.6 860.4l16.4 16.4m-16.4 0l16.4 -16.4M1930.5 862.1l16.4 16.4m-16.4 0l16.4 -16.4M1930.4 863.4l16.4 16.4m-16.4 0l16.4 -16.4M1930.3 864.8l16.4 16.4m-16.4 0l16.4 -16.4M1930.2 865.9l16.4 16.4m-16.4 0l16.4 -16.4M1930.1 867l16.4 16.4m-16.4 0l16.4 -16.4M1929.9 868.1l16.4 16.4m-16.4 0l16.4 -16.4M1929.8 869.2l16.4 16.4m-16.4 0l16.4 -16.4M1929.6 869.9l16.4 16.4m-16.4 0l16.4 -16.4M1929.4 870.6l16.4 16.4m-16.4 0l16.4 -16.4M1929.2 871.3l16.4 16.4m-16.4 0l16.4 -16.4M1929 872l16.4 16.4m-16.4 0l16.4 -16.4M1928.8 872.7l16.4 16.4m-16.4 0l16.4 -16.4M1928.6 873.3l16.4 16.4m-16.4 0l16.4 -16.4M1928.4 873.7l16.4 16.4m-16.4 0l16.4 -16.4M1928.2 874.2l16.4 16.4m-16.4 0l16.4 -16.4M1928.1 874.6l16.4 16.4m-16.4 0l16.4 -16.4M1927.9 875l16.4 16.4m-16.4 0l16.4 -16.4M1927.7 875.3l16.4 16.4m-16.4 0l16.4 -16.4M1927.5 875.7l16.4 16.4m-16.4 0l16.4 -16.4M1927.3 876l16.4 16.4m-16.4 0l16.4 -16.4M1927.1 876.3l16.4 16.4m-16.4 0l16.4 -16.4M1926.9 876.6l16.4 16.4m-16.4 0l16.4 -16.4M1926.7 876.9l16.4 16.4m-16.4 0l16.4 -16.4M1926.5 877.2l16.4 16.4m-16.4 0l16.4 -16.4M1926.3 877.4l16.4 16.4m-16.4 0l16.4 -16.4M1926.1 877.7l16.4 16.4m-16.4 0l16.4 -16.4M1925.8 877.9l16.4 16.4m-16.4 0l16.4 -16.4" stroke="#ff0000" stroke-width="5.8" fill="none"/>
<path d="M1927.9 655.4l16.4 16.4m-16.4 0l16.4 -16.4M1934.5 650.7l16.4 16.4m-16.4 0l16.4 -16.4M1938.7 644l16.4 16.4m-16.4 0l16.4 -16.4M1941.6 638.2l16.4 16.4m-16.4 0l16.4 -16.4M1943.9 632.6l16.4 16.4m-16.4 0l16.4 -16.4M1946 627.5l16.4 16.4m-16.4 0l16.4 -16.4M1947.9 623.1l16.4 16.4m-16.4 0l16.4 -16.4M1949.5 618.6l16.4 16.4m-16.4 0l16.4 -16.4M1950.9 614.8l16.4 16.4m-16.4 0l16.4 -16.4M1952.3 611l16.4 16.4m-16.4 0l16.4 -16.4M1953.6 607.6l16.4 16.4m-16.4 0l16.4 -16.4M1954.8 604.2l16.4 16.4m-16.4 0l16.4 -16.4M1955.5 602.1l16.4 16.4m-16.4 0l16.4 -16.4M1956.3 599.9l16.4 16.4m-16.4 0l16.4 -16.4M1957.1 597.8l16.4 16.4m-16.4 0l16.4 -16.4M1957.8 595.6l16.4 16.4m-16.4 0l16.4 -16.4M1958.6 593.5l16.4 16.4m-16.4 0l16.4 -16.4M1959.4 591.4l16.4 16.4m-16.4 0l16.4 -16.4M1960.1 589.3l16.4 16.4m-16.4 0l16.4 -16.4M1960.8 587.2l16.4 16.4m-16.4 0l16.4 -16.4M1961.6 585.2l16.4 16.4m-16.4 0l16.4 -16.4M1962.3 583.2l16.4 16.4m-16.4 0l16.4 -16.4M1963 581.2l16.4 16.4m-16.4 0l16.4 -16.4M1963.7 579.2l16.4 16.4m-16.4 0l16.4 -16.4M1964.4 577.2l16.4 16.4m-16.4 0l16.4 -16.4M1965.1 575.2l16.4 16.4m-16.4 0l16.4 -16.4M1965.8 573.3l16.4 16.4m-16.4 0l16.4 -16.4M1966.5 571.4l16.4 16.4m-16.4 0l16.4 -16.4M1967.2 569.5l16.4 16.4m-16.4 0l16.4 -16.4M1967.8 567.6l16.4 16.4m-16.4 0l16.4 -16.4M1968.5 565.8l16.4 16.4m-16.4 0l16.4 -16.4M1969.2 563.9l16.4 16.4m-16.4 0l16.4 -16.4M1969.8 562.1l16.4 16.4m-16.4 0l16.4 -16.4M1970.4 560.4l16.4 16.4m-16.4 0l16.4 -16.4M1971.1 558.6l16.4 16.4m-16.4 0l16.4 -16.4M1971.7 556.9l16.4 16.4m-16.4 0l16.4 -16.4M1972.3 555.2l16.4 16.4m-16.4 0l16.4 -16.4M1972.9 553.5l16.4 16.4m-16.4 0l16.4 -16.4M1973.4 551.9l16.4 16.4m-16.4 0l16.4 -16.4M1974 550.3l16.4 16.4m-16.4 0l16.4 -16.4M1974.6 548.8l16.4 16.4m-16.4 0l16.4 -16.4M1975.1 547.3l16.4 16.4m-16.4 0l16.4 -16.4M1975.6 545.8l16.4 16.4m-16.4 0l16.4 -16.4M1976.1 544.4l16.4 16.4m-16.4 0l16.4 -16.4M1976.6 543.1l16.4 16.4m-16.4 0l16.4 -16.4M1977 541.8l16.4 16.4m-16.4 0l16.4 -16.4M1977.5 540.6l16.4 16.4m-16.4 0l16.4 -16.4M1977.9 539.5l16.4 16.4m-16.4 0l16.4 -16.4M1978.2 538.5l16.4 16.4m-16.4 0l16.4 -16.4M1978.5 537.8l16.4 16.4m-16.4 0l16.4 -16.4M1927.9 812.8l16.4 16.4m-16.4 0l16.4 -16.4M1934.5 817.5l16.4 16.4m-16.4 0l16.4 -16.4M1938.7 824.2l16.4 16.4m-16.4 0l16.4 -16.4M1941.6 830l16.4 16.4m-16.4 0l16.4 -16.4M1943.9 835.6l16.4 16.4m-16.4 0l16.4 -16.4M1946 840.7l16.4 16.4m-16.4 0l16.4 -16.4M1947.9 845.1l16.4 16.4m-16.4 0l16.4 -16.4M1949.5 849.6l16.4 16.4m-16.4 0l16.4 -16.4M1950.9 853.4l16.4 16.4m-16.4 0l16.4 -16.4M1952.3 857.2l16.4 16.4m-16.4 0l16.4 -16.4M1953.6 860.6l16.4 16.4m-16.4 0l16.4 -16.4M1954.8 864l16.4 16.4m-16.4 0l16.4 -16.4M1955.5 866.1l16.4 16.4m-16.4 0l16.4 -16.4M1956.3 868.3l16.4 16.4m-16.4 0l16.4 -16.4M1957.1 870.4l16.4 16.4m-16.4 0l16.4 -16.4M1957.8 872.6l16.4 16.4m-16.4 0l16.4 -16.4M1958.6 874.7l16.4 16.4m-16.4 0l16.4 -16.4M1959.4 876.8l16.4 16.4m-16.4 0l16.4 -16.4M1960.1 878.9l16.4 16.4m-16.4 0l16.4 -16.4M1960.8 881l16.4 16.4m-16.4 0l16.4 -16.4M1961.6 883l16.4 16.4m-16.4 0l16.4 -16.4M1962.3 885l16.4 16.4m-16.4 0l16.4 -16.4M1963 887l16.4 16.4m-16.4 0l16.4 -16.4M1963.7 889l16.4 16.4m-16.4 0l16.4 -16.4M1964.4 891l16.4 16.4m-16.4 0l16.4 -16.4M1965.1 893l16.4 16.4m-16.4 0l16.4 -16.4M1965.8 894.9l16.4 16.4m-16.4 0l16.4 -16.4M1966.5 896.8l16.4 16.4m-16.4 0l16.4 -16.4M1967.2 898.7l16.4 16.4m-16.4 0l16.4 -16.4M1967.8 900.6l16.4 16.4m-16.4 0l16.4 -16.4M1968.5 902.4l16.4 16.4m-16.4 0l16.4 -16.4M1969.2 904.3l16.4 16.4m-16.4 0l16.4 -16.4M1969.8 906.1l16.4 16.4m-16.4 0l16.4 -16.4M1970.4 907.8l16.4 16.4m-16.4 0l16.4 -16.4M1971.1 909.6l16.4 16.4m-16.4 0l16.4 -16.4M1971.7 911.3l16.4 16.4m-16.4 0l16.4 -16.4M1972.3 913l16.4 16.4m-16.4 0l16.4 -16.4M1972.9 914.7l16.4 16.4m-16.4 0l16.4 -16.4M1973.4 916.3l16.4 16.4m-16.4 0l16.4 -16.4M1974 917.9l16.4 16.4m-16.4 0l16.4 -16.4M1974.6 919.4l16.4 16.4m-16.4 0l16.4 -16.4M1975.1 920.9l16.4 16.4m-16.4 0l16.4 -16.4M1975.6 922.4l16.4 16.4m-16.4 0l16.4 -16.4M1976.1 923.8l16.4 16.4m-16.4 0l16.4 -16.4M1976.6 925.1l16.4 16.4m-16.4 0l16.4 -16.4M1977 926.4l16.4 16.4m-16.4 0l16.4 -16.4M1977.5 927.6l16.4 16.4m-16.4 0l16.4 -16.4M1977.9 928.7l16.4 16.4m-16.4 0l16.4 -16.4M1978.2 929.7l16.4 16.4m-16.4 0l16.4 -16.4M1978.5 930.4l16.4 16.4m-16.4 0l16.4 -16.4" stroke="#0aa00a" stroke-width="5.8" fill="none"/>
<path d="M1921.3 624.1l16.4 16.4m-16.4 0l16.4 -16.4M1921.5 625l16.4 16.4m-16.4 0l16.4 -16.4M1921.4 625.8l16.4 16.4m-16.4 0l16.4 -16.4M1921.3 844.1l16.4 16.4m-16.4 0l16.4 -16.4M1921.5 843.2l16.4 16.4m-16.4 0l16.4 -16.4M1921.4 842.4l16.4 16.4m-16.4 0l16.4 -16.4" stroke="#0000ff" stroke-width="5.8" fill="none"/>
<rect x="1528.3" y="571" width="254.5" height="136.5" fill="#fff" stroke="#000" stroke-width="1.3"/>
<path d="M1545 590l20 20m-20 0l20 -20" stroke="#0000ff" stroke-width="5.2" fill="none"/>
<path d="M1595.7 598a11.3 11.3 0 1 0 22.6 0a11.3 11.3 0 1 0 -22.6 0" stroke="#0000ff" stroke-width="3.8" fill="none"/>
<text x="1652" y="608" font-family="Liberation Serif, serif" font-size="29.4" fill="#000"><tspan font-style="italic">R</tspan>/<tspan font-style="italic">X</tspan> = 0.3</text>
<path d="M1545 628l20 20m-20 0l20 -20" stroke="#ff0000" stroke-width="5.2" fill="none"/>
<path d="M1595.7 636a11.3 11.3 0 1 0 22.6 0a11.3 11.3 0 1 0 -22.6 0" stroke="#ff0000" stroke-width="3.8" fill="none"/>
<text x="1652" y="646.5" font-family="Liberation Serif, serif" font-size="29.4" fill="#000"><tspan font-style="italic">R</tspan>/<tspan font-style="italic">X</tspan> = 1</text>
<path d="M1545 669l20 20m-20 0l20 -20" stroke="#00b050" stroke-width="5.2" fill="none"/>
<path d="M1595.7 677a11.3 11.3 0 1 0 22.6 0a11.3 11.3 0 1 0 -22.6 0" stroke="#00b050" stroke-width="3.8" fill="none"/>
<text x="1652" y="688" font-family="Liberation Serif, serif" font-size="29.4" fill="#000"><tspan font-style="italic">R</tspan>/<tspan font-style="italic">X</tspan> = 7</text>
<rect x="1911.5" y="533.5" width="93" height="148" fill="none" stroke="#ff00ff" stroke-width="2.2" stroke-dasharray="4.5 3.5"/>
<path d="M2005 544L2044 565" stroke="#ff00ff" stroke-width="2.2" stroke-dasharray="4.5 3.5" fill="none"/><path d="M2056 572.5l-17-2l6-11z" fill="#ff00ff"/>
</g>
<g font-family="Liberation Sans, sans-serif">
<defs><clipPath id="cRi"><rect x="2074.5" y="576" width="166.6" height="299.3"/></clipPath></defs>
<rect x="2037.5" y="573.5" width="490" height="339.5" fill="none" stroke="#ff00ff" stroke-width="1.4" stroke-dasharray="5 4"/>
<g clip-path="url(#cRi)" stroke="#8c8c8c" stroke-width="1" stroke-dasharray="1.5 1.2" fill="none"><path d="M2241.1 919.1L1092.9 -4664.3M2241.1 919.1L1092.9 6502.5M2241.1 919.1L-55.2 -4540.5M2241.1 919.1L-55.2 6378.7M2241.1 919.1L-1012 -4369.9M2241.1 919.1L-1012 6208.1M2241.1 919.1L-2064.5 -4103.3M2241.1 919.1L-2064.5 5941.5M2241.1 919.1L-3117 -3740.3M2241.1 919.1L-3117 5578.5M2241.1 919.1L-4169.5 -3255.9M2241.1 919.1L-4169.5 5094.1M2241.1 919.1L-5030.6 -2736.1M2241.1 919.1L-5030.6 4574.3M2241.1 919.1L-5891.7 -2043.5M2241.1 919.1L-5891.7 3881.7M2241.1 848.8A119.6 70.3 0 0 0 2241.1 989.4M2241.1 813.6A179.4 105.5 0 0 0 2241.1 1024.5M2241.1 778.5A239.2 140.6 0 0 0 2241.1 1059.7M2241.1 743.4A299 175.8 0 0 0 2241.1 1094.8M2241.1 708.2A358.8 210.9 0 0 0 2241.1 1130M2241.1 673A418.6 246.1 0 0 0 2241.1 1165.2M2241.1 637.9A478.4 281.2 0 0 0 2241.1 1200.3M2241.1 602.8A538.2 316.4 0 0 0 2241.1 1235.5M2241.1 576V875.3"/></g>
<text x="2099" y="605" font-size="24.4" text-anchor="middle" fill="#262626" >0.24</text>
<text x="2171" y="605" font-size="24.4" text-anchor="middle" fill="#262626" >0.12</text>
<text x="2081" y="670" font-size="24.4" text-anchor="start" fill="#262626" >0.34</text>
<text x="2081" y="747" font-size="24.4" text-anchor="start" fill="#262626" >0.45</text>
<text x="2081" y="789" font-size="24.4" text-anchor="start" fill="#262626" >0.56</text>
<text x="2081" y="825" font-size="24.4" text-anchor="start" fill="#262626" >0.67</text>
<text x="2081" y="849" font-size="24.4" text-anchor="start" fill="#262626" >0.76</text>
<text x="2081" y="871" font-size="24.4" text-anchor="start" fill="#262626" >0.85</text>
<text x="2240" y="599" font-size="24.4" text-anchor="end" fill="#262626" >22.5</text>
<text x="2240" y="633" font-size="24.4" text-anchor="end" fill="#262626" >20</text>
<text x="2240" y="668" font-size="24.4" text-anchor="end" fill="#262626" >17.5</text>
<text x="2240" y="703" font-size="24.4" text-anchor="end" fill="#262626" >15</text>
<text x="2240" y="738" font-size="24.4" text-anchor="end" fill="#262626" >12.5</text>
<text x="2240" y="773" font-size="24.4" text-anchor="end" fill="#262626" >10</text>
<text x="2240" y="809" font-size="24.4" text-anchor="end" fill="#262626" >7.5</text>
<text x="2240" y="844" font-size="24.4" text-anchor="end" fill="#262626" >5</text>
<rect x="2074.5" y="576" width="448.8" height="299.3" fill="none" stroke="#333" stroke-width="2.2"/>
<path d="M2121.5 875.3v-5M2121.5 576v5M2241.1 875.3v-5M2241.1 576v5M2360.7 875.3v-5M2360.7 576v5M2480.3 875.3v-5M2480.3 576v5M2074.5 637.9h5M2523.3 637.9h-5M2074.5 708.2h5M2523.3 708.2h-5M2074.5 778.5h5M2523.3 778.5h-5M2074.5 848.8h5M2523.3 848.8h-5" stroke="#333" stroke-width="1.6" fill="none"/>
<text x="2066" y="646.4" font-size="24.4" text-anchor="end" fill="#262626" >20</text>
<text x="2066" y="716.7" font-size="24.4" text-anchor="end" fill="#262626" >15</text>
<text x="2066" y="787" font-size="24.4" text-anchor="end" fill="#262626" >10</text>
<text x="2066" y="857.3" font-size="24.4" text-anchor="end" fill="#262626" >5</text>
<text x="2121.5" y="911" font-size="24.4" text-anchor="middle" fill="#262626" >-5</text>
<text x="2241.1" y="911" font-size="24.4" text-anchor="middle" fill="#262626" >0</text>
<text x="2360.7" y="911" font-size="24.4" text-anchor="middle" fill="#262626" >5</text>
<text x="2480.3" y="911" font-size="24.4" text-anchor="middle" fill="#262626" >10</text>
<path d="M2124 745l10.8 10.8m-10.8 0l10.8 -10.8M2134.3 742.5l10.8 10.8m-10.8 0l10.8 -10.8M2144.1 739.3l10.8 10.8m-10.8 0l10.8 -10.8M2153.6 735.9l10.8 10.8m-10.8 0l10.8 -10.8M2161.5 732.7l10.8 10.8m-10.8 0l10.8 -10.8M2167.5 728.4l10.8 10.8m-10.8 0l10.8 -10.8M2172.1 724.6l10.8 10.8m-10.8 0l10.8 -10.8M2174.9 720.2l10.8 10.8m-10.8 0l10.8 -10.8M2177.1 716.7l10.8 10.8m-10.8 0l10.8 -10.8M2177.8 713.2l10.8 10.8m-10.8 0l10.8 -10.8M2178.5 709.9l10.8 10.8m-10.8 0l10.8 -10.8M2178.6 706.7l10.8 10.8m-10.8 0l10.8 -10.8M2178.4 703.9l10.8 10.8m-10.8 0l10.8 -10.8M2178.1 701l10.8 10.8m-10.8 0l10.8 -10.8M2177.5 698.7l10.8 10.8m-10.8 0l10.8 -10.8M2176.5 696.5l10.8 10.8m-10.8 0l10.8 -10.8M2175.7 694.7l10.8 10.8m-10.8 0l10.8 -10.8M2174.9 692.8l10.8 10.8m-10.8 0l10.8 -10.8M2174.1 691l10.8 10.8m-10.8 0l10.8 -10.8M2173.2 689.2l10.8 10.8m-10.8 0l10.8 -10.8M2171.9 688l10.8 10.8m-10.8 0l10.8 -10.8M2170.7 686.8l10.8 10.8m-10.8 0l10.8 -10.8M2169.4 685.6l10.8 10.8m-10.8 0l10.8 -10.8M2168.2 684.4l10.8 10.8m-10.8 0l10.8 -10.8M2166.7 683.3l10.8 10.8m-10.8 0l10.8 -10.8M2165.1 682.3l10.8 10.8m-10.8 0l10.8 -10.8M2164 681.6l10.8 10.8m-10.8 0l10.8 -10.8M2162.9 680.9l10.8 10.8m-10.8 0l10.8 -10.8M2161.8 680.2l10.8 10.8m-10.8 0l10.8 -10.8M2160.7 679.6l10.8 10.8m-10.8 0l10.8 -10.8M2159.5 679l10.8 10.8m-10.8 0l10.8 -10.8M2158.2 678.5l10.8 10.8m-10.8 0l10.8 -10.8M2156.9 677.9l10.8 10.8m-10.8 0l10.8 -10.8M2155.6 677.4l10.8 10.8m-10.8 0l10.8 -10.8M2154.3 676.8l10.8 10.8m-10.8 0l10.8 -10.8M2152.9 676.3l10.8 10.8m-10.8 0l10.8 -10.8M2151.5 675.9l10.8 10.8m-10.8 0l10.8 -10.8M2150.1 675.5l10.8 10.8m-10.8 0l10.8 -10.8M2148.6 675.1l10.8 10.8m-10.8 0l10.8 -10.8M2147.2 674.7l10.8 10.8m-10.8 0l10.8 -10.8" stroke="#ff0000" stroke-width="3" fill="none"/>
<path d="M2160.4 782.7l11.2 11.2m-11.2 0l11.2 -11.2M2203.9 774.9l11.2 11.2m-11.2 0l11.2 -11.2M2231.7 763.8l11.2 11.2m-11.2 0l11.2 -11.2M2250.6 754.2l11.2 11.2m-11.2 0l11.2 -11.2M2265.9 744.8l11.2 11.2m-11.2 0l11.2 -11.2M2279.8 736.3l11.2 11.2m-11.2 0l11.2 -11.2M2291.7 729l11.2 11.2m-11.2 0l11.2 -11.2M2302.5 721.6l11.2 11.2m-11.2 0l11.2 -11.2M2312 715.3l11.2 11.2m-11.2 0l11.2 -11.2M2321.1 708.9l11.2 11.2m-11.2 0l11.2 -11.2M2329.3 703.3l11.2 11.2m-11.2 0l11.2 -11.2M2337.2 697.7l11.2 11.2m-11.2 0l11.2 -11.2M2342.3 694.1l11.2 11.2m-11.2 0l11.2 -11.2M2347.3 690.5l11.2 11.2m-11.2 0l11.2 -11.2M2352.4 686.9l11.2 11.2m-11.2 0l11.2 -11.2M2357.4 683.4l11.2 11.2m-11.2 0l11.2 -11.2M2362.3 679.8l11.2 11.2m-11.2 0l11.2 -11.2M2367.3 676.3l11.2 11.2m-11.2 0l11.2 -11.2M2372.1 672.9l11.2 11.2m-11.2 0l11.2 -11.2M2377 669.4l11.2 11.2m-11.2 0l11.2 -11.2M2381.8 666l11.2 11.2m-11.2 0l11.2 -11.2M2386.6 662.7l11.2 11.2m-11.2 0l11.2 -11.2M2391.3 659.3l11.2 11.2m-11.2 0l11.2 -11.2M2396 656l11.2 11.2m-11.2 0l11.2 -11.2M2400.6 652.7l11.2 11.2m-11.2 0l11.2 -11.2M2405.2 649.5l11.2 11.2m-11.2 0l11.2 -11.2M2409.7 646.2l11.2 11.2m-11.2 0l11.2 -11.2M2414.2 643l11.2 11.2m-11.2 0l11.2 -11.2M2418.7 639.9l11.2 11.2m-11.2 0l11.2 -11.2M2423.1 636.8l11.2 11.2m-11.2 0l11.2 -11.2M2427.4 633.7l11.2 11.2m-11.2 0l11.2 -11.2M2431.7 630.7l11.2 11.2m-11.2 0l11.2 -11.2M2435.9 627.7l11.2 11.2m-11.2 0l11.2 -11.2M2440.1 624.7l11.2 11.2m-11.2 0l11.2 -11.2M2444.2 621.8l11.2 11.2m-11.2 0l11.2 -11.2M2448.2 619l11.2 11.2m-11.2 0l11.2 -11.2M2452.1 616.2l11.2 11.2m-11.2 0l11.2 -11.2M2456 613.4l11.2 11.2m-11.2 0l11.2 -11.2M2459.8 610.7l11.2 11.2m-11.2 0l11.2 -11.2M2463.5 608.1l11.2 11.2m-11.2 0l11.2 -11.2M2467.2 605.5l11.2 11.2m-11.2 0l11.2 -11.2M2470.7 603l11.2 11.2m-11.2 0l11.2 -11.2M2474.1 600.6l11.2 11.2m-11.2 0l11.2 -11.2M2477.4 598.3l11.2 11.2m-11.2 0l11.2 -11.2M2480.5 596.1l11.2 11.2m-11.2 0l11.2 -11.2M2483.5 593.9l11.2 11.2m-11.2 0l11.2 -11.2M2486.4 591.9l11.2 11.2m-11.2 0l11.2 -11.2M2489 590.1l11.2 11.2m-11.2 0l11.2 -11.2M2491.2 588.5l11.2 11.2m-11.2 0l11.2 -11.2M2492.9 587.3l11.2 11.2m-11.2 0l11.2 -11.2" stroke="#0aa00a" stroke-width="3.2" fill="none"/>
<path d="M2116.9 730.5l11.6 11.6m-11.6 0l11.6 -11.6M2118.6 731.9l11.6 11.6m-11.6 0l11.6 -11.6M2117.6 733.3l11.6 11.6m-11.6 0l11.6 -11.6" stroke="#0000ff" stroke-width="4" fill="none"/>
<path d="M2124 761C2170 768 2205 740 2196 690C2193 678 2188 672 2182 668" stroke="#ff0000" stroke-width="2.2" fill="none"/><path d="M2169 669l18 1.5l-9 11z" fill="#ff0000"/>
<path d="M2162 806.5C2240 795 2300 745 2500 617" stroke="#00b050" stroke-width="2.2" fill="none"/><path d="M2511 610l-16 3.5l7 10z" fill="#00b050"/>
<text x="2073" y="565" font-family="Liberation Serif, serif" font-size="30.1" fill="#ff00ff">Zoom in</text>
</g>
<defs><filter id="sh" x="-30%" y="-30%" width="170%" height="170%"><feGaussianBlur in="SourceAlpha" stdDeviation="3.2"/><feOffset dx="3" dy="3"/><feComponentTransfer><feFuncA type="linear" slope="0.45"/></feComponentTransfer><feMerge><feMergeNode/><feMergeNode in="SourceGraphic"/></feMerge></filter></defs>
<path d="M564.5 1068h42v59h20l-41 41l-41 -41h20z" fill="#4472c4" filter="url(#sh)"/>
<path d="M1881 1073h42v59h20l-41 41l-41 -41h20z" fill="#4472c4" filter="url(#sh)"/>
</svg>
<div class="t cap ls1" style="left:40px;top:1190.5px;width:1095.3px"><i class="m">R</i><span class="m">/</span><i class="m">X</i>越大，极点变化轨迹整体更靠近虚轴，随着<i class="m">J</i><sub class="m"><i>q</i></sub>的增大，</div>
<div class="t cap ls1" style="left:40px;top:1242.5px;width:520px">系统阻尼比先减小后增大。</div>
<div class="t cap ls2" style="left:1277px;top:1190.5px;width:1232px">当<i class="m">R</i><span class="m">/</span><i class="m">X</i> 较大时，<i class="m">K</i><sub class="m"><i>qi</i></sub>稍微增大就会使共轭极点移动到右半平面，导致</div>
<div class="t cap" style="left:1277px;top:1242.5px;width:215px">系统失稳。</div>
<div id="ref">[3] Mengling Yang , <b>Yang Wang*,</b> Josep M. Guerrero, “Impact of Reactive Power Control on Low-frequency Oscillation of Virtual Synchronous Generators,” in <b><i>IEEE Transactions on Power System</i></b>, 2025, vol. 40, no. 4, pp. 3604-3607, July 2025.</div>
<div class="t" id="pn">23</div>
</body></html>
